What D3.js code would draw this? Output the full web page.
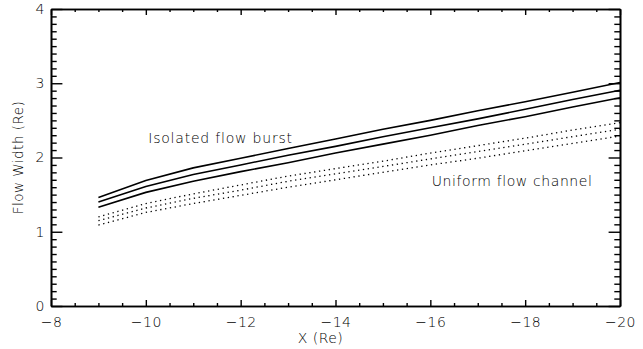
<!DOCTYPE html>
<html>
<head>
<meta charset="utf-8">
<script src="https://cdn.jsdelivr.net/npm/d3@7"></script>
<style>
  body { margin: 0; background: #fff; }
  text { font-family: "DejaVu Sans", "Liberation Sans", Arial, sans-serif; font-weight: 200; fill: #000; }
</style>
</head>
<body>
<div id="chart"></div>
<script>
// Flow width vs downtail distance

var width = 643;
var height = 349;
var margin = { top: 9, right: 23, bottom: 43, left: 51 };
var plotW = width - margin.left - margin.right;
var plotH = height - margin.top - margin.bottom;

// downtail positions (Re)
var xValues = [-9, -10, -11, -12, -13, -14, -15, -16, -17, -18, -19, -20];

// isolated flow burst (solid)
var burstUpper = [1.46, 1.69, 1.86, 1.99, 2.12, 2.25, 2.38, 2.50, 2.63, 2.75, 2.88, 3.01];
var burstMid   = [1.40, 1.61, 1.77, 1.90, 2.03, 2.15, 2.28, 2.40, 2.52, 2.65, 2.78, 2.905];
var burstLower = [1.33, 1.53, 1.68, 1.81, 1.93, 2.06, 2.18, 2.30, 2.43, 2.55, 2.68, 2.805];

// uniform flow channel (dotted)
var channelUpper = [1.20, 1.38, 1.51, 1.63, 1.75, 1.85, 1.95, 2.06, 2.16, 2.26, 2.37, 2.47];
var channelMid   = [1.15, 1.32, 1.45, 1.56, 1.68, 1.78, 1.88, 1.98, 2.08, 2.18, 2.28, 2.38];
var channelLower = [1.09, 1.26, 1.38, 1.49, 1.60, 1.70, 1.80, 1.90, 1.99, 2.09, 2.19, 2.29];

var xTicks = [-8, -10, -12, -14, -16, -18, -20];
var yTicks = [0, 1, 2, 3, 4];

var svg = d3.select("#chart")
    .append("svg")
    .attr("width", width)
    .attr("height", height)
    .append("g")
    .attr("transform", "translate(" + margin.left + "," + margin.top + ")");

var x = d3.scaleLinear().domain([-8, -20]).range([0, plotW]);
var y = d3.scaleLinear().domain([0, 4]).range([plotH, 0]);

// minor tick positions
var xMinor = d3.range(0, 25).map(function(i) { return -8 - i * 0.5; })
    .filter(function(v) { return xTicks.indexOf(v) < 0; });
var yMinor = d3.range(0, 41).map(function(i) { return +(i * 0.1).toFixed(1); })
    .filter(function(v) { return yTicks.indexOf(v) < 0; });

var fmt = function(d) { return d < 0 ? "\u2212" + Math.abs(d) : "" + d; };

// tick lengths, all pointing into the plot box
var xMaj = 6, yMaj = 11.4;

function styleAxis(g) {
    g.selectAll("path.domain").attr("stroke", "#000").attr("stroke-width", 1.6);
    g.selectAll(".tick line").attr("stroke", "#000").attr("stroke-width", 1.4);
    g.selectAll(".tick text")
        .style("font-family", "'DejaVu Sans', 'Liberation Sans', Arial, sans-serif")
        .style("font-weight", "200")
        .style("font-size", "14px")
        .style("letter-spacing", "0.5px")
        .attr("fill", "#000");
}

// bottom
svg.append("g")
    .attr("transform", "translate(0," + plotH + ")")
    .call(d3.axisBottom(x).tickValues(xTicks).tickFormat(fmt).tickSize(-xMaj).tickSizeOuter(0).tickPadding(11))
    .call(styleAxis);
svg.append("g")
    .attr("transform", "translate(0," + plotH + ")")
    .call(d3.axisBottom(x).tickValues(xMinor).tickFormat("").tickSize(-xMaj / 2).tickSizeOuter(0))
    .call(styleAxis);

// top
svg.append("g")
    .call(d3.axisTop(x).tickValues(xTicks).tickFormat("").tickSize(-xMaj).tickSizeOuter(0))
    .call(styleAxis);
svg.append("g")
    .call(d3.axisTop(x).tickValues(xMinor).tickFormat("").tickSize(-xMaj / 2).tickSizeOuter(0))
    .call(styleAxis);

// left
svg.append("g")
    .call(d3.axisLeft(y).tickValues(yTicks).tickFormat(fmt).tickSize(-yMaj).tickSizeOuter(0).tickPadding(6))
    .call(styleAxis);
svg.append("g")
    .call(d3.axisLeft(y).tickValues(yMinor).tickFormat("").tickSize(-yMaj / 2).tickSizeOuter(0))
    .call(styleAxis);

// right
svg.append("g")
    .attr("transform", "translate(" + plotW + ",0)")
    .call(d3.axisRight(y).tickValues(yTicks).tickFormat("").tickSize(-yMaj).tickSizeOuter(0))
    .call(styleAxis);
svg.append("g")
    .attr("transform", "translate(" + plotW + ",0)")
    .call(d3.axisRight(y).tickValues(yMinor).tickFormat("").tickSize(-yMaj / 2).tickSizeOuter(0))
    .call(styleAxis);

var line = d3.line()
    .x(function(d) { return x(d[0]); })
    .y(function(d) { return y(d[1]); });

function pairs(vals) {
    return xValues.map(function(v, i) { return [v, vals[i]]; });
}

[burstUpper, burstMid, burstLower].forEach(function(s) {
    svg.append("path")
        .datum(pairs(s))
        .attr("d", line)
        .attr("fill", "none")
        .attr("stroke", "#000")
        .attr("stroke-width", 1.6);
});

[channelUpper, channelMid, channelLower].forEach(function(s) {
    svg.append("path")
        .datum(pairs(s))
        .attr("d", line)
        .attr("fill", "none")
        .attr("stroke", "#000")
        .attr("stroke-width", 1.3)
        .attr("stroke-dasharray", "1.3,3.6");
});

// annotations
svg.append("text")
    .attr("x", x(-10.05))
    .attr("y", 134)
    .style("font-size", "14px")
    .style("letter-spacing", "0.8px")
    .text("Isolated flow burst");

svg.append("text")
    .attr("x", x(-16.03))
    .attr("y", 177)
    .style("font-size", "14px")
    .style("letter-spacing", "0.6px")
    .text("Uniform flow channel");

// axis titles
svg.append("text")
    .attr("x", plotW / 2 - 15)
    .attr("y", plotH + 37)
    .attr("text-anchor", "middle")
    .style("font-size", "14px")
    .style("letter-spacing", "0.5px")
    .text("X (Re)");

svg.append("text")
    .attr("transform", "translate(" + (-28) + "," + (plotH / 2) + ") rotate(-90)")
    .attr("text-anchor", "middle")
    .style("font-size", "13.5px")
    .style("letter-spacing", "0.5px")
    .text("Flow Width (Re)");
</script>
</body>
</html>
